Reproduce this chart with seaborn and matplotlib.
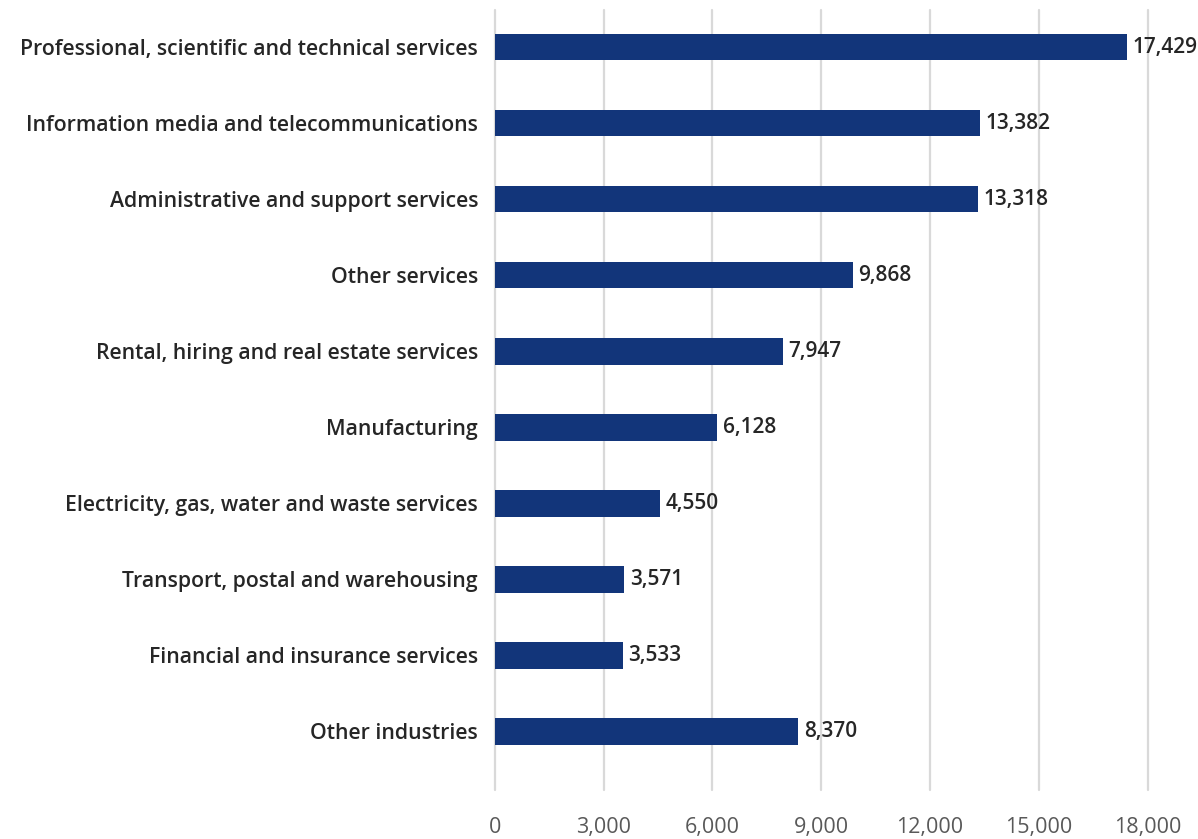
import matplotlib
matplotlib.use("Agg")
import matplotlib.pyplot as plt
import seaborn as sns
import pandas as pd

industries = [
    "Professional, scientific and technical services",
    "Information media and telecommunications",
    "Administrative and support services",
    "Other services",
    "Rental, hiring and real estate services",
    "Manufacturing",
    "Electricity, gas, water and waste services",
    "Transport, postal and warehousing",
    "Financial and insurance services",
    "Other industries",
]
counts = [17429, 13382, 13318, 9868, 7947, 6128, 4550, 3571, 3533, 8370]
x_ticks = [0, 3000, 6000, 9000, 12000, 15000, 18000]

df = pd.DataFrame({"industry": industries, "count": counts})

sns.set_theme(style="white")
plt.rcParams["font.family"] = ["Open Sans", "DejaVu Sans"]

fig = plt.figure(figsize=(11.98, 8.39), dpi=100)
ax = fig.add_axes([0.413, 0.058, 0.545, 0.930])

sns.barplot(data=df, y="industry", x="count", orient="h", color="#12357a",
            saturation=1, width=0.35, linewidth=0, ax=ax, zorder=3)

ax.set_xlim(0, 18000)
ax.set_ylim(9.776, -0.487)
ax.set_xticks(x_ticks)
ax.set_xticklabels([f"{t:,}" for t in x_ticks], fontsize=15.5, color="#595959")
ax.tick_params(axis="x", length=0, pad=19)
ax.tick_params(axis="y", length=0, pad=12, labelsize=15.3)
for lbl in ax.get_yticklabels():
    lbl.set_fontweight("semibold")
    lbl.set_color("#262626")

ax.set_xlabel("")
ax.set_ylabel("")
for s in ax.spines.values():
    s.set_visible(False)

ax.xaxis.grid(True, color="#d9d9d9", linewidth=1.6, zorder=0)
ax.set_axisbelow(True)
for gl in ax.get_xgridlines():
    gl.set_clip_on(False)

ax.bar_label(ax.containers[0], labels=[f"{v:,}" for v in counts], padding=4,
             fontsize=15.0, fontweight="semibold", color="#262626", clip_on=False)

fig.savefig("out.png", dpi=100)
